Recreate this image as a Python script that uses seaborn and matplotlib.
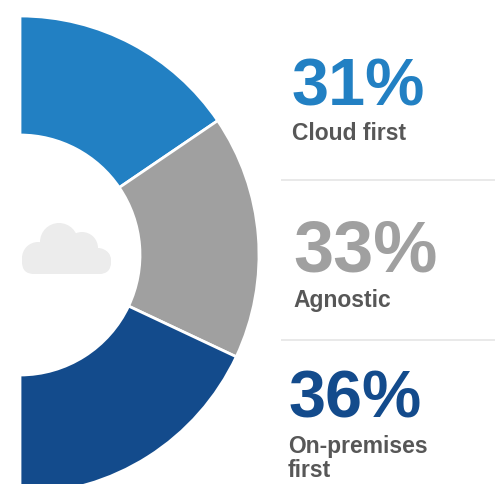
import matplotlib
matplotlib.use("Agg")
import matplotlib.pyplot as plt
from matplotlib.patches import Circle, FancyBboxPatch
import seaborn as sns

categories = ["Cloud first", "Agnostic", "On-premises\nfirst"]
values = [31, 33, 36]
colors = ["#2280C3", "#A0A0A0", "#134B8C"]
pct_labels = ["31%", "33%", "36%"]

sns.set_theme(style="white")
plt.rcParams['font.family'] = ['Liberation Sans', 'DejaVu Sans']

fig = plt.figure(figsize=(4.95, 4.85), dpi=100)
ax = fig.add_axes([0, 0, 1, 1])

# hidden half keeps the three shares on the right side of the ring
wedges, _ = ax.pie(values + [sum(values)],
                   colors=colors + ["white"],
                   startangle=90, counterclock=False,
                   center=(20, 229), radius=239,
                   wedgeprops=dict(width=119, edgecolor="white", linewidth=2))
wedges[3].set_visible(False)
ax.set_xlim(0, 495)
ax.set_ylim(0, 485)
ax.set_aspect("equal")
ax.axis("off")

# cloud icon
cloud = "#ECECEC"
ax.add_patch(FancyBboxPatch((34, 222), 65, 0.5, boxstyle="round,pad=12,rounding_size=12",
                            fc=cloud, ec="none"))
for cx, cy, r in [(38, 226, 16), (59, 242, 19), (82, 236, 16), (98, 223, 13)]:
    ax.add_patch(Circle((cx, cy), r, fc=cloud, ec="none"))

# big percentages and labels
ax.text(291.5, 380, pct_labels[0], color=colors[0], fontsize=48, fontweight="bold", va="baseline", ha="left")
ax.text(292, 345.5, categories[0], color="#575757", fontsize=16.5, fontweight="bold", va="baseline", ha="left")
ax.text(293.5, 213, pct_labels[1], color=colors[1], fontsize=52, fontweight="bold", va="baseline", ha="left")
ax.text(293, 177.5, categories[1], color="#575757", fontsize=16.5, fontweight="bold", va="baseline", ha="left")
ax.text(288.5, 67, pct_labels[2], color=colors[2], fontsize=48, fontweight="bold", va="baseline", ha="left")
ax.text(288, 8, categories[2], color="#575757", fontsize=16.5, fontweight="bold", va="baseline", ha="left",
        linespacing=1.07)

# separators
for y in [304.5, 144.5]:
    ax.plot([281, 495], [y, y], color="#E5E5E5", lw=1.2, solid_capstyle="butt")

fig.savefig("out.png", dpi=100, facecolor="white")
